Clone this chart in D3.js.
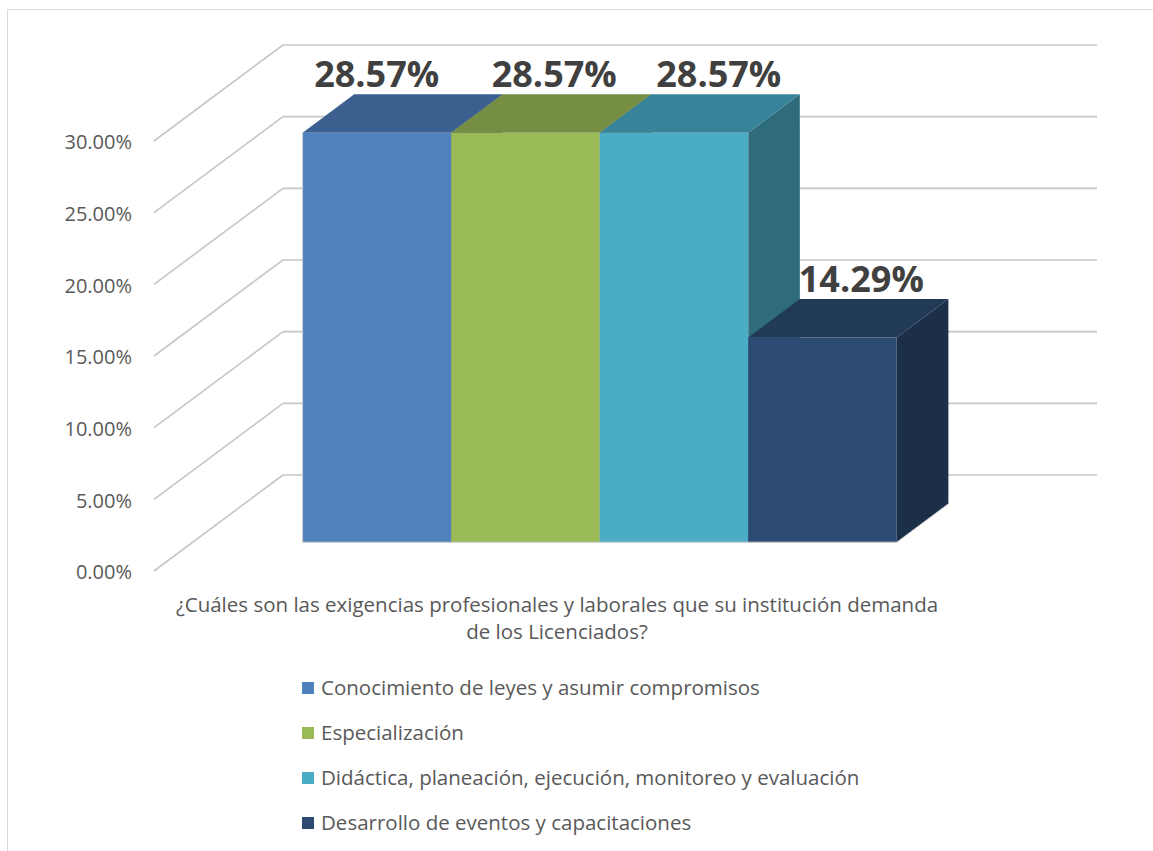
<!DOCTYPE html>
<html>
<head>
<meta charset="utf-8">
<script src="https://cdn.jsdelivr.net/npm/d3@7"></script>
<style>
  body { margin: 0; background: #fff; }
  text { font-family: "Open Sans", "Noto Sans", sans-serif; }
</style>
</head>
<body>
<script>
// data
const series = [
  "Conocimiento de leyes y asumir compromisos",
  "Especialización",
  "Didáctica, planeación, ejecución, monitoreo y evaluación",
  "Desarrollo de eventos y capacitaciones"
];
const values = [28.57, 28.57, 28.57, 14.29];
const yTicks = [0, 5, 10, 15, 20, 25, 30];
const axisTitle = [
  "¿Cuáles son las exigencias profesionales y laborales que su institución demanda",
  "de los Licenciados?"
];

// face colours (front / top / side)
const frontColors = ["#4f81bd", "#9bbb59", "#4bacc6", "#2c4b73"];
const topColors   = ["#3b6090", "#758e43", "#37839a", "#203a58"];
const sideColors  = ["#2f5679", "#5f7536", "#2e6c7b", "#1c2f48"];
// Excel shifts 3D data labels a bit
const labelNudge = [-26, 3, 19, 13];

const W = 1153, H = 851;
const svg = d3.select("body").append("svg")
    .attr("width", W)
    .attr("height", H);

// chart frame
svg.append("rect")
    .attr("x", 7.5).attr("y", 9.5)
    .attr("width", 1170).attr("height", 870)
    .attr("fill", "#fff")
    .attr("stroke", "#d9d9d9")
    .attr("stroke-width", 1);

// oblique 3D projection: front plane + depth offset
const x0 = 154, DX = 129, DY = 96;
const plotW = 814;
const zFront = 0.3, zBack = 0.7;

const y = d3.scaleLinear().domain([0, 30]).range([571, 141]);
const x = d3.scaleBand().domain(series).range([0, plotW])
    .paddingInner(0).paddingOuter(0.74);

function P(xi, v, z) {
  return [x0 + xi + z * DX, y(v) - z * DY];
}

const grid = svg.append("g");

// back wall gridlines
grid.selectAll(".back")
  .data(yTicks)
  .enter().append("line")
    .attr("x1", d => P(0, d, 1)[0])
    .attr("x2", d => P(plotW, d, 1)[0])
    .attr("y1", d => P(0, d, 1)[1])
    .attr("y2", d => P(0, d, 1)[1])
    .attr("stroke", "#c6c6c6")
    .attr("stroke-width", 1.6);

// side wall diagonals
grid.selectAll(".side")
  .data(yTicks)
  .enter().append("line")
    .attr("x1", d => P(0, d, 0)[0])
    .attr("y1", d => P(0, d, 0)[1])
    .attr("x2", d => P(0, d, 1)[0])
    .attr("y2", d => P(0, d, 1)[1])
    .attr("stroke", "#c6c6c6")
    .attr("stroke-width", 1.6);

// y axis labels
svg.append("g").selectAll("text")
  .data(yTicks)
  .enter().append("text")
    .attr("x", 132)
    .attr("y", d => y(d) + 3)
    .attr("text-anchor", "end")
    .attr("dominant-baseline", "middle")
    .attr("font-size", 20)
    .attr("fill", "#595959")
    .text(d => d.toFixed(2) + "%");

// bars
const poly = pts => "M" + pts.map(p => p.join(",")).join("L") + "Z";
const bars = svg.append("g");

series.forEach((s, i) => {
  const xa = x(s), xb = x(s) + x.bandwidth(), v = values[i];
  const g = bars.append("g");
  // right side
  g.append("path")
    .attr("d", poly([P(xb, 0, zFront), P(xb, 0, zBack), P(xb, v, zBack), P(xb, v, zFront)]))
    .attr("fill", sideColors[i]);
  // top
  g.append("path")
    .attr("d", poly([P(xa, v, zFront), P(xb, v, zFront), P(xb, v, zBack), P(xa, v, zBack)]))
    .attr("fill", topColors[i]);
  // front
  g.append("path")
    .attr("d", poly([P(xa, 0, zFront), P(xb, 0, zFront), P(xb, v, zFront), P(xa, v, zFront)]))
    .attr("fill", frontColors[i]);
});

// light outline along the bottom and left of the bar block
const first = series[0], last = series[series.length - 1];
bars.append("path")
    .attr("d", "M" + P(x(first), values[0], zFront).join(",") +
               "L" + P(x(first), 0, zFront).join(",") +
               "L" + P(x(last) + x.bandwidth(), 0, zFront).join(",") +
               "L" + P(x(last) + x.bandwidth(), 0, zBack).join(","))
    .attr("fill", "none")
    .attr("stroke", "#c8c8c8")
    .attr("stroke-width", 1);

// data labels
svg.append("g").selectAll("text")
  .data(values)
  .enter().append("text")
    .attr("x", (d, i) => P(x(series[i]) + x.bandwidth() / 2, d, (zFront + zBack) / 2)[0] + labelNudge[i])
    .attr("y", d => P(0, d, zBack)[1] - 7)
    .attr("text-anchor", "middle")
    .attr("font-size", 36)
    .attr("font-weight", 700)
    .attr("fill", "#404040")
    .text(d => d.toFixed(2) + "%");

// category axis title
svg.append("g").selectAll("text")
  .data(axisTitle)
  .enter().append("text")
    .attr("x", 557)
    .attr("y", (d, i) => 612 + i * 27)
    .attr("text-anchor", "middle")
    .attr("font-size", 20.5)
    .attr("fill", "#595959")
    .text(d => d);

// legend
const legend = svg.append("g").selectAll("g")
  .data(series)
  .enter().append("g")
    .attr("transform", (d, i) => "translate(302," + (682 + i * 45) + ")");

legend.append("rect")
    .attr("width", 12).attr("height", 12)
    .attr("fill", (d, i) => frontColors[i]);

legend.append("text")
    .attr("x", 19)
    .attr("y", 13)
    .attr("font-size", 20.5)
    .attr("fill", "#595959")
    .text(d => d);
</script>
</body>
</html>
